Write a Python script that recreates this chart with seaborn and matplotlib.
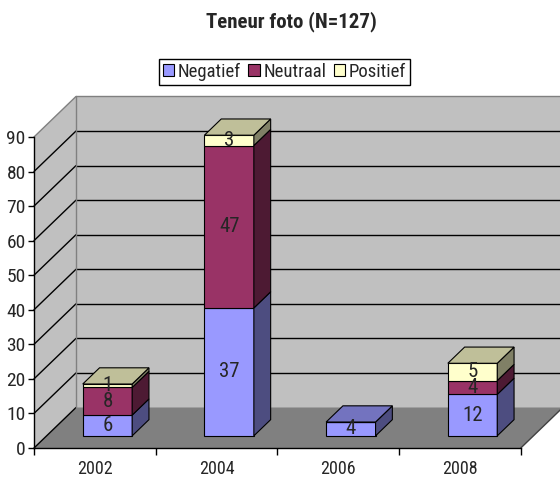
import matplotlib
matplotlib.use("Agg")
import matplotlib.pyplot as plt
import matplotlib.colors as mcolors
from matplotlib import transforms as mtrans
from matplotlib.patches import Polygon, Patch
import pandas as pd
import seaborn as sns

# data
years = ["2002", "2004", "2006", "2008"]
series = ["Negatief", "Neutraal", "Positief"]
negatief = [6, 37, 4, 12]
neutraal = [8, 47, 0, 4]
positief = [1, 3, 0, 5]
y_ticks = list(range(0, 100, 10))
title = "Teneur foto (N=127)"

colors = {"Negatief": "#9999FF", "Neutraal": "#993366", "Positief": "#FFFFCC"}


def shade(c, f):
    """kleur donkerder maken voor zij- en bovenvlak"""
    return tuple(v * f for v in mcolors.to_rgb(c))


sns.set_style("white")
plt.rcParams["font.family"] = ["Roboto Condensed", "DejaVu Sans"]

fig = plt.figure(figsize=(5.6, 4.78), dpi=100)
ax = fig.add_axes([34 / 560, 30 / 478, 526 / 560, 352 / 478])

# 3D diepte in data-eenheden
DX, DY = 42 / 121.7, 40.5 / 3.456
F0, F1 = 0.3, 0.7
BAR_W = 0.406
XMIN, XMAX = -0.5, len(years) - 0.5
TOP = max(y_ticks)

# wanden en vloer
wall = "#C0C0C0"
ax.add_patch(Polygon([(XMIN, 0), (XMIN, TOP), (XMIN + DX, TOP + DY), (XMIN + DX, DY)],
                     facecolor=wall, edgecolor="none", zorder=0, clip_on=False))
ax.add_patch(Polygon([(XMIN + DX, DY), (XMIN + DX, TOP + DY), (XMAX + DX, TOP + DY), (XMAX + DX, DY)],
                     facecolor=wall, edgecolor="none", zorder=0, clip_on=False))
ax.add_patch(Polygon([(XMIN, 0), (XMAX, 0), (XMAX + DX, DY), (XMIN + DX, DY)],
                     facecolor="#808080", edgecolor="none", zorder=0, clip_on=False))

for v in y_ticks:
    lc = "#808080" if v == TOP else "black"
    ax.plot([XMIN, XMIN + DX], [v, v + DY], color=lc, lw=1, zorder=0.5, clip_on=False)
    if v > 0:
        ax.plot([XMIN + DX, XMAX + DX], [v + DY, v + DY], color=lc, lw=1, zorder=0.5, clip_on=False)
ax.plot([XMIN + DX, XMIN + DX], [DY, TOP + DY], color="#808080", lw=1, zorder=0.5, clip_on=False)
ax.plot([XMAX, XMAX + DX], [0, DY], color="#404040", lw=1, zorder=0.5, clip_on=False)

# gestapelde balken
df = pd.DataFrame({
    "year": years * 3,
    "serie": [s for s in series for _ in years],
    "value": negatief + neutraal + positief,
})

front = mtrans.Affine2D().translate(F0 * DX, F0 * DY) + ax.transData
bottoms = [0] * len(years)
bars = {}
for s in series:
    sub = df[df["serie"] == s]
    n_before = len(ax.patches)
    sns.barplot(data=sub, x="year", y="value", order=years, color=colors[s],
                saturation=1, width=BAR_W, bottom=bottoms, errorbar=None,
                edgecolor="black", linewidth=0.8, ax=ax, zorder=2)
    bars[s] = ax.patches[n_before:]
    for p in bars[s]:
        p.set_transform(front)
    bottoms = [b + v for b, v in zip(bottoms, sub["value"])]

ddx, ddy = (F1 - F0) * DX, (F1 - F0) * DY
for i, yr in enumerate(years):
    top_s = None
    for s in series:
        p = bars[s][i]
        h = p.get_height()
        if h <= 0:
            continue
        xl = p.get_x() + F0 * DX
        xr = xl + p.get_width()
        yb = p.get_y() + F0 * DY
        yt = yb + h
        ax.add_patch(Polygon([(xr, yb), (xr, yt), (xr + ddx, yt + ddy), (xr + ddx, yb + ddy)],
                             facecolor=shade(colors[s], 0.5), edgecolor="black", lw=0.8,
                             zorder=2, clip_on=False))
        ax.text((xl + xr) / 2, (yb + yt) / 2, f"{h:g}", ha="center", va="center",
                fontsize=15, zorder=5)
        top_s = (s, xl, xr, yt)
    if top_s:
        s, xl, xr, yt = top_s
        ax.add_patch(Polygon([(xl, yt), (xr, yt), (xr + ddx, yt + ddy), (xl + ddx, yt + ddy)],
                             facecolor=shade(colors[s], 0.75), edgecolor="black", lw=0.8,
                             zorder=2, clip_on=False))

# assen
ax.set_xlim(XMIN, XMIN + 526 / 121.7)
ax.set_ylim(0, 352 / 3.456)
ax.set_xlabel("")
ax.set_ylabel("")
for side in ["top", "right"]:
    ax.spines[side].set_visible(False)
ax.spines["left"].set_bounds(0, TOP)
ax.spines["bottom"].set_bounds(XMIN, XMAX)
for side in ["left", "bottom"]:
    ax.spines[side].set_color("black")
    ax.spines[side].set_linewidth(1)
    ax.spines[side].set_zorder(3)

ax.set_yticks(y_ticks)
ax.set_yticklabels([str(v) for v in y_ticks])
ax.set_xticks(range(len(years)))
ax.set_xticklabels(years)
ax.set_xticks([i - 0.5 for i in range(len(years) + 1)], minor=True)
ax.tick_params(axis="y", direction="out", length=4, width=1, color="black", pad=2, labelsize=14, left=True)
ax.tick_params(axis="x", which="major", length=0, pad=9, labelsize=13)
ax.tick_params(axis="x", which="minor", direction="out", length=5, width=1, color="black", bottom=True)

# legenda en titel
handles = [Patch(facecolor=colors[s], edgecolor="black", lw=0.8) for s in series]
leg = fig.legend(handles, series, loc="center", bbox_to_anchor=(284.5 / 560, 1 - 72 / 478),
                 ncol=3, frameon=True, fancybox=False, edgecolor="black", framealpha=1,
                 handlelength=0.6, handleheight=0.6, handletextpad=0.2, columnspacing=0.4,
                 borderpad=0.2, fontsize=13.5)
leg.get_frame().set_linewidth(1)

fig.text(291 / 560, 1 - 22 / 478, title, ha="center", va="center", fontsize=15, fontweight="bold")

fig.savefig("out.png", dpi=100)
